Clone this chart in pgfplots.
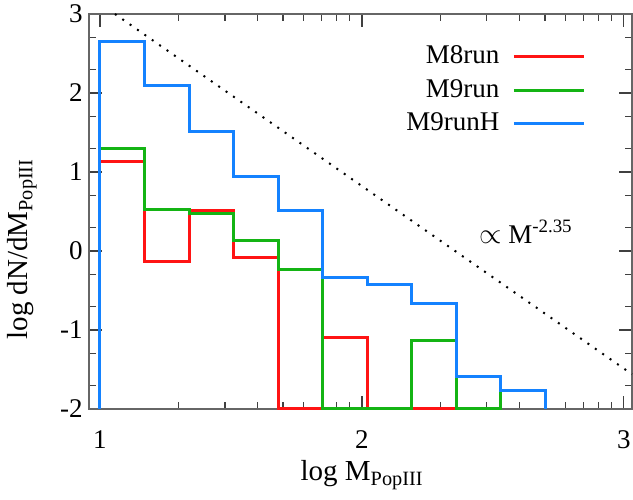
\documentclass[border=0pt]{standalone}
\usepackage{pgfplots}
\pgfplotsset{compat=1.18}
\usepackage{fontspec}
\setmainfont{Liberation Serif}
\definecolor{cRed}{RGB}{255,20,20}
\definecolor{cGreen}{RGB}{20,180,20}
\definecolor{cBlue}{RGB}{20,130,255}
\begin{document}
\fontsize{13.5}{16}\selectfont
\begin{tikzpicture}
\begin{axis}[
  scale only axis,
  width=271.5pt, height=197.5pt,
  xmin=0.958, xmax=3.031,
  ymin=-2, ymax=3,
  clip=false,
  xtick={1,2,3}, xticklabels={1,2,3},
  ytick={-2,-1,0,1,2,3}, yticklabels={-2,-1,0,1,2,3},
  minor xtick={1.301,1.477,1.602,1.699,1.778,1.845,1.903,1.954,2.301,2.477,2.602,2.699,2.778,2.845,2.903,2.954},
  minor ytick={-1.699,-1.301,-0.699,-0.301,0.301,0.699,1.301,1.699,2.301,2.699},
  major tick length=6.5pt, minor tick length=3.5pt,
  tick align=inside,
  axis line style={black!60, line width=0.8pt},
  every tick/.style={black!75, line width=0.6pt},
  xticklabel style={yshift=-6pt},
  yticklabel style={xshift=1.5pt},
  xlabel={log M\textsubscript{PopIII}},
  ylabel={log dN/dM\textsubscript{PopIII}},
  xlabel style={at={(axis description cs:0.503,-0.167)}, anchor=center, font=\fontsize{14.5}{17}\selectfont},
  ylabel style={at={(axis description cs:-0.123,0.405)}, anchor=center, font=\fontsize{14.5}{17}\selectfont},
  legend plot pos=right,
  legend cell align=right,
  legend style={draw=none, fill=none, inner sep=0pt,
    at={(axis description cs:0.915,0.935)}, anchor=north east,
    nodes={inner sep=2pt, text height=9.75pt, text depth=3pt},
    /tikz/column sep=4.5pt},
  legend image code/.code={\draw[#1] (0pt,0pt) -- (35pt,0pt);},
]
\coordinate (bbsw) at (axis description cs:0,0);
\coordinate (bbne) at (axis description cs:1,1);
\addplot[cRed, line width=1.5pt, const plot] coordinates {
 (1.0,-2) (1.0,1.13) (1.17,-0.13) (1.34,0.51) (1.51,-0.08) (1.68,-2)
 (1.85,-1.09) (2.02,-2) (2.19,-2) (2.36,-2) (2.53,-2)};
\addlegendentry{M8run}
\addplot[cGreen, line width=1.5pt, const plot] coordinates {
 (1.0,-2) (1.0,1.30) (1.17,0.52) (1.34,0.47) (1.51,0.13) (1.68,-0.24)
 (1.85,-2) (2.02,-2) (2.19,-1.13) (2.36,-2) (2.53,-1.76) (2.70,-2)};
\addlegendentry{M9run}
\addplot[cBlue, line width=1.5pt, const plot] coordinates {
 (1.0,-2) (1.0,2.65) (1.17,2.09) (1.34,1.51) (1.51,0.94) (1.68,0.51)
 (1.85,-0.33) (2.02,-0.43) (2.19,-0.66) (2.36,-1.59) (2.53,-1.76) (2.70,-2)};
\addlegendentry{M9runH}
\addplot[black, line width=1pt, dash pattern=on 1pt off 3.5pt, forget plot] coordinates {
 (1.057,3) (3.031,-1.56)};
\node[anchor=base] at (axis cs:2.626,0.10) {$\propto$ M\textsuperscript{-2.35}};
\end{axis}
\pgfresetboundingbox
\path ([xshift=-44.5pt,yshift=-45.5pt]bbsw) rectangle ([xshift=0.5pt,yshift=7pt]bbne);
\end{tikzpicture}
\end{document}
